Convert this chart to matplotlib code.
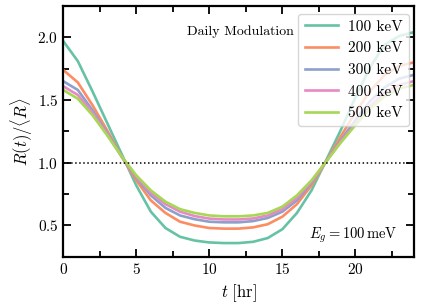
import numpy as np
import matplotlib
matplotlib.use("Agg")
import matplotlib.pyplot as plt
from matplotlib.ticker import MultipleLocator

plt.rcParams['font.family'] = 'cmr10'
plt.rcParams['mathtext.fontset'] = 'cm'
plt.rcParams['axes.unicode_minus'] = False
plt.rcParams['axes.formatter.use_mathtext'] = True

hours = list(range(25))
r_100 = [1.97, 1.81, 1.57, 1.32, 1.07, 0.82, 0.61, 0.48, 0.41, 0.38, 0.365, 0.36, 0.36,
         0.37, 0.40, 0.47, 0.60, 0.78, 1.02, 1.26, 1.52, 1.76, 1.94, 2.01, 2.04]
r_200 = [1.74, 1.64, 1.46, 1.26, 1.05, 0.86, 0.70, 0.60, 0.53, 0.50, 0.48, 0.475, 0.475,
         0.485, 0.51, 0.57, 0.67, 0.82, 1.01, 1.21, 1.40, 1.57, 1.70, 1.77, 1.80]
r_300 = [1.65, 1.58, 1.42, 1.24, 1.05, 0.88, 0.74, 0.64, 0.58, 0.55, 0.53, 0.525, 0.525,
         0.535, 0.56, 0.61, 0.70, 0.84, 1.01, 1.18, 1.34, 1.49, 1.60, 1.67, 1.70]
r_400 = [1.61, 1.54, 1.40, 1.23, 1.05, 0.89, 0.76, 0.67, 0.61, 0.575, 0.555, 0.548, 0.548,
         0.556, 0.58, 0.63, 0.72, 0.85, 1.01, 1.17, 1.31, 1.45, 1.56, 1.62, 1.65]
r_500 = [1.58, 1.51, 1.38, 1.22, 1.05, 0.90, 0.78, 0.69, 0.63, 0.60, 0.58, 0.573, 0.573,
         0.58, 0.60, 0.65, 0.74, 0.86, 1.01, 1.16, 1.30, 1.43, 1.53, 1.59, 1.62]
series = [r_100, r_200, r_300, r_400, r_500]
labels = ['100 keV', '200 keV', '300 keV', '400 keV', '500 keV']
colors = ['#66c2a5', '#fc8d62', '#8da0cb', '#e78ac3', '#a6d854']

fig = plt.figure(figsize=(4.24, 3.08), dpi=100)
ax = fig.add_axes([0.149, 0.166, 0.827, 0.815])

for vals, lab, c in zip(series, labels, colors):
    ax.plot(hours, vals, color=c, lw=1.9, label=lab)
ax.axhline(1.0, color='k', ls=':', lw=1.1)

ax.set_xlim(0, 24)
ax.set_ylim(0.25, 2.25)
ax.xaxis.set_major_locator(MultipleLocator(5))
ax.xaxis.set_minor_locator(MultipleLocator(2.5))
ax.yaxis.set_major_locator(MultipleLocator(0.5))
ax.yaxis.set_minor_locator(MultipleLocator(0.25))
ax.tick_params(which='both', direction='in', top=True, right=True, labelsize=11, width=1.3)
ax.tick_params(which='major', length=6)
ax.tick_params(which='minor', length=4)
for s in ax.spines.values():
    s.set_linewidth(1.6)

ax.set_xlabel(r'$t\ \mathrm{[hr]}$', fontsize=12, labelpad=4)
ax.set_ylabel(r'$R(t)/\langle R\rangle$', fontsize=12, labelpad=2)

ax.text(0.353, 0.885, 'Daily Modulation', transform=ax.transAxes, fontsize=10)
ax.text(0.70, 0.075, r'$E_g = 100\,\mathrm{meV}$', transform=ax.transAxes, fontsize=10.5)

ax.legend(loc='upper right', bbox_to_anchor=(0.986, 0.968), borderaxespad=0,
          fontsize=11, handlelength=2.2, labelspacing=0.52, handletextpad=0.65,
          borderpad=0.4)

fig.savefig('out.png', dpi=100)
